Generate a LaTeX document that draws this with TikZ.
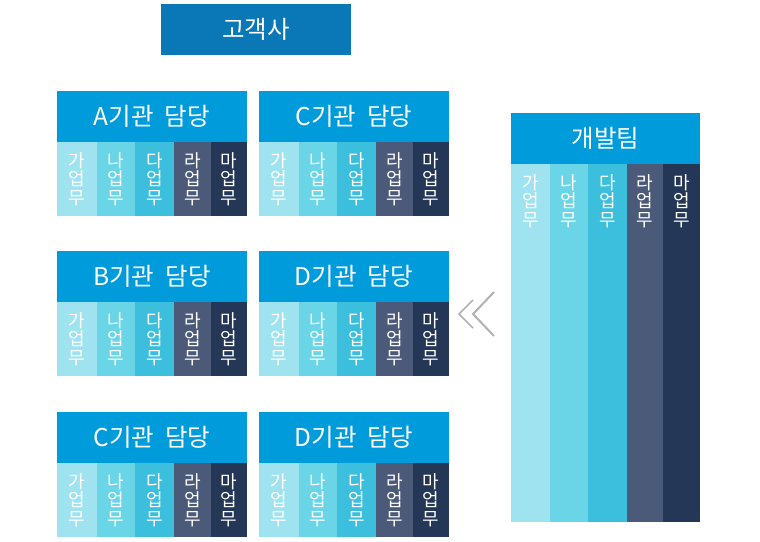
\documentclass[tikz,border=0pt]{standalone}
\usepackage{fontspec}
\setmainfont{Noto Sans CJK KR}
\definecolor{hdr}{HTML}{009BDA}
\definecolor{topc}{HTML}{0A78B7}
\definecolor{c1}{HTML}{A0E3F0}
\definecolor{c2}{HTML}{69D5E6}
\definecolor{c3}{HTML}{3CBFDD}
\definecolor{c4}{HTML}{4B5A78}
\definecolor{c5}{HTML}{243757}
\definecolor{chev}{HTML}{B2B2B2}
\tikzset{
  box/.style={draw=none, inner sep=0pt, outer sep=0pt, anchor=north west, rectangle},
  hdrtxt/.style={text=white, font=\fontsize{24.5}{25}\selectfont},
  coltxt/.style={text=white, font=\fontsize{18}{18.6}\selectfont, align=center},
  chevline/.style={draw=chev, line width=2pt},
}
\newcommand\orgcard[4]{%
  \node[box, fill=hdr, minimum width=190pt, minimum height=51pt, hdrtxt] (#1-h) at (#2,#3) {#4};
  \foreach \i/\dx/\w/\c/\t in {1/0/40.5/c1/가,2/40/38.5/c2/나,3/78/39.5/c3/다,4/117/37.5/c4/라,5/154/36/c5/마}
    \node[box, fill=\c, minimum width=\w pt, minimum height=74pt, coltxt] (#1-\i) at (#2+\dx,#3+51) {\t\\업\\무};
}
\newcommand\wsp{\hspace{0.45em}}
\begin{document}
\begin{tikzpicture}[x=1pt,y=-1pt]
\useasboundingbox (0,0) rectangle (760,541);
\fill[white] (0,0) rectangle (760,541);
% top box
\node[box, fill=topc, minimum width=190pt, minimum height=51pt, hdrtxt] (client) at (161,4) {고객사};
% cards
\orgcard{A}{57}{91}{A기관\wsp 담당}
\orgcard{C1}{259}{91}{C기관\wsp 담당}
\orgcard{B}{57}{251}{B기관\wsp 담당}
\orgcard{D1}{259}{251}{D기관\wsp 담당}
\orgcard{C2}{57}{412}{C기관\wsp 담당}
\orgcard{D2}{259}{412}{D기관\wsp 담당}
% dev team
\node[box, fill=hdr, minimum width=189pt, minimum height=51pt, hdrtxt] (dev-h) at (511,113) {개발팀};
\foreach \i/\dx/\w/\c/\t in {1/0/39.5/c1/가,2/39/38.5/c2/나,3/77/39.5/c3/다,4/116/36.5/c4/라,5/152/37/c5/마}{
  \node[box, fill=\c, minimum width=\w pt, minimum height=358pt] (dev-\i) at (511+\dx,164) {};
  \node[coltxt, inner sep=0pt, anchor=north] (devt-\i) at ([yshift=-10pt]dev-\i.north) {\t\\업\\무};
}
% chevrons
\coordinate (ca1) at (473,300);
\coordinate (ca2) at (459,314);
\coordinate (ca3) at (473,328);
\coordinate (cb1) at (494,292);
\coordinate (cb2) at (473,314);
\coordinate (cb3) at (494,336);
\draw[chevline, line width=1.6pt] (ca1) -- (ca2) -- (ca3);
\draw[chevline] (cb1) -- (cb2) -- (cb3);
\end{tikzpicture}
\end{document}
